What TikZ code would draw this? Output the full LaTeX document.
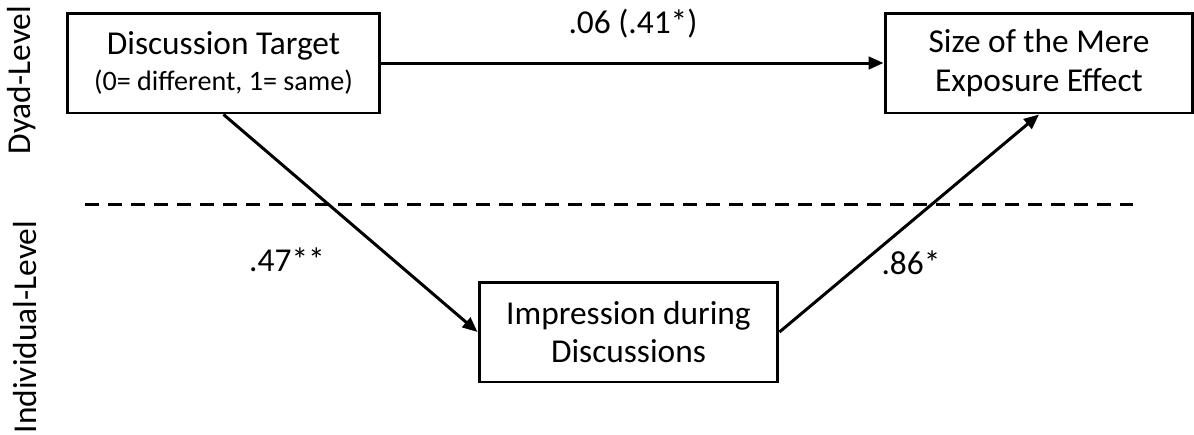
\documentclass[tikz,border=0pt]{standalone}
\usepackage{fontspec}
\setmainfont{Carlito}
\usetikzlibrary{arrows.meta}

\begin{document}
\begin{tikzpicture}[x=0.02cm, y=-0.02cm]
    \tikzstyle{var}=[draw, line width=1.7pt, minimum height=2cm, align=center, font=\fontsize{19}{22}\selectfont]
    \tikzstyle{path}=[line width=1.7pt, -{Triangle[length=0.3cm, width=0.25cm]}]
    \tikzstyle{coef}=[font=\fontsize{19}{22}\selectfont]

    \useasboundingbox (0,0) rectangle (1194,434);

    \node[rotate=90, coef](dyad) at (22, 80) {Dyad-Level};
    \node[rotate=90, coef](indiv) at (25, 327) {Individual-Level};

    \coordinate(sep_l) at (85, 204);
    \coordinate(sep_r) at (1133, 204);
    \draw[line width=1.7pt, dash pattern=on 0.28cm off 0.18cm] (sep_l) -- (sep_r);

    \node[var, minimum width=6.26cm](target) at (223.5, 63) {Discussion Target\\[-2pt]{\fontsize{16}{19}\selectfont (0= different, 1= same)}};
    \node[var, minimum width=6.16cm](effect) at (1039, 63) {Size of the Mere\\Exposure Effect};
    \node[var, minimum width=5.98cm](impress) at (628.5, 332) {Impression during\\Discussions};

    \draw[path] (target.east) -- (effect.west);
    \draw[path] (target.south) -- (impress.west);
    \draw[path] (impress.east) -- (effect.south);

    \node[coef](c_direct) at (633, 24) {.06 (.41*)};
    \node[coef](c_a) at (287, 260) {.47**};
    \node[coef](c_b) at (911, 263) {.86*};

\end{tikzpicture}
\end{document}
